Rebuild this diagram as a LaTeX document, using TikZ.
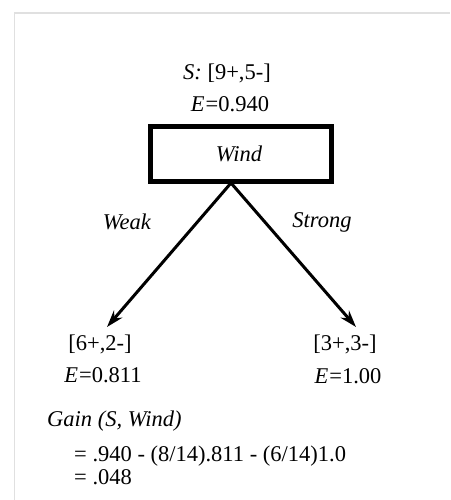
\documentclass[tikz,border=0pt]{standalone}
\usepackage{fontspec}
\setmainfont{Liberation Serif}
\usetikzlibrary{arrows.meta}
\begin{document}
\begin{tikzpicture}[x=1pt,y=1pt,
  txt/.style={inner sep=0pt,font=\fontsize{22.5}{23}\selectfont},
  arr/.style={line width=3pt,-{Stealth[length=17pt,width=11pt]}},
  boxed/.style={draw,line width=5pt,minimum width=181pt,minimum height=55pt,inner sep=0pt}]
\useasboundingbox (0,0) rectangle (450,500);
\draw[black!12,line width=1.2pt] (14.5,0) -- (14.5,487) -- (450,487);
\node[txt] (s) at (227,427) {\textit{S:} [9+,5-]};
\node[txt] (e0) at (230,396) {\textit{E}\hspace{1pt}=0.940};
\node[boxed] (box) at (241,346) {};
\node[txt] (wind) at (239,346) {\textit{Wind}};
\node[txt] (weak) at (127,278) {\textit{Weak}};
\node[txt] (strong) at (322,278) {\textit{Strong}};
\node[txt] (l1) at (100,156) {[6+,2-]};
\node[txt] (le1) at (103,125) {\textit{E}\hspace{1pt}=0.811};
\node[txt] (r1) at (345,156) {[3+,3-]};
\node[txt] (re1) at (348,124) {\textit{E}\hspace{1pt}=1.00};
\node[txt,anchor=west] (gain) at (47,79) {\textit{Gain (S, Wind)}};
\node[txt,anchor=west] (eq1) at (74,44) {= .940 - (8/14).811 - (6/14)1.0};
\node[txt,anchor=west] (eq2) at (74,23) {= .048};
\coordinate (apex) at (231,317);
\coordinate (tipL) at (107,173);
\coordinate (tipR) at (356,173);
\draw[arr] (apex) -- (tipL);
\draw[arr] (apex) -- (tipR);
\end{tikzpicture}
\end{document}
